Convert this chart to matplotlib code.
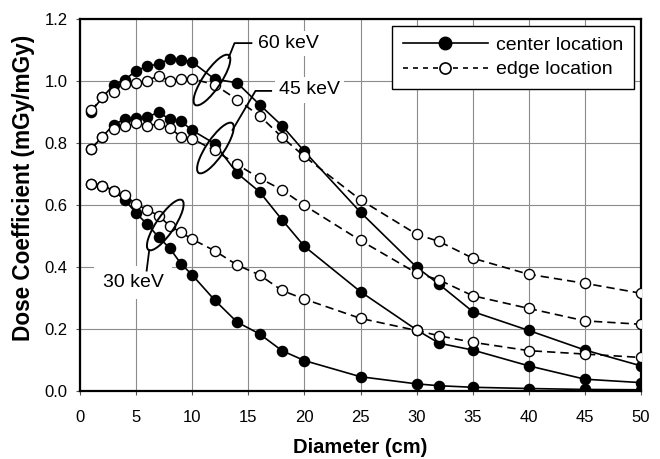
import numpy as np
import matplotlib
matplotlib.use("Agg")
import matplotlib.pyplot as plt
from matplotlib.patches import Ellipse
import matplotlib.transforms as mtrans

plt.rcParams['font.family'] = ['Liberation Sans', 'DejaVu Sans']

diam = [1, 2, 3, 4, 5, 6, 7, 8, 9, 10, 12, 14, 16, 18, 20, 25, 30, 32, 35, 40, 45, 50]

center_60 = [0.900, 0.946, 0.987, 1.003, 1.032, 1.046, 1.054, 1.070, 1.068, 1.060, 1.005, 0.993,
             0.923, 0.855, 0.772, 0.576, 0.399, 0.344, 0.256, 0.195, 0.132, 0.081]
edge_60 = [0.904, 0.946, 0.962, 0.989, 0.993, 1.000, 1.016, 1.000, 1.006, 1.006, 0.987, 0.939,
           0.887, 0.818, 0.756, 0.616, 0.505, 0.482, 0.428, 0.376, 0.347, 0.315]

center_45 = [0.780, 0.820, 0.858, 0.876, 0.880, 0.883, 0.898, 0.876, 0.869, 0.840, 0.797, 0.702,
             0.642, 0.552, 0.466, 0.320, 0.197, 0.154, 0.132, 0.081, 0.038, 0.027]
edge_45 = [0.780, 0.820, 0.844, 0.853, 0.863, 0.855, 0.860, 0.847, 0.820, 0.813, 0.775, 0.730,
           0.686, 0.648, 0.598, 0.485, 0.380, 0.358, 0.307, 0.266, 0.226, 0.215]

center_30 = [0.668, 0.662, 0.645, 0.616, 0.573, 0.537, 0.496, 0.460, 0.410, 0.374, 0.293, 0.222,
             0.184, 0.130, 0.098, 0.046, 0.023, 0.017, 0.012, 0.008, 0.005, 0.004]
edge_30 = [0.668, 0.662, 0.646, 0.630, 0.602, 0.584, 0.565, 0.532, 0.511, 0.489, 0.452, 0.406,
           0.374, 0.324, 0.296, 0.234, 0.195, 0.178, 0.157, 0.130, 0.119, 0.108]

fig = plt.figure(figsize=(6.6, 4.59), dpi=100)
ax = fig.add_axes([80 / 660, 68 / 459, 561 / 660, 372.4 / 459])

ms = 7.3
for c in [center_60, center_45, center_30]:
    ax.plot(diam, c, '-', color='black', lw=1.2, marker='o', ms=ms,
            mfc='black', mec='black', zorder=3)
for e in [edge_60, edge_45, edge_30]:
    ax.plot(diam, e, '--', color='black', lw=1.2, dashes=(5, 3), marker='o', ms=ms,
            mfc='white', mec='black', mew=1.0, zorder=4)

# legend handles
h1, = ax.plot([], [], '-', color='black', lw=1.2, marker='o', ms=9, mfc='black', mec='black')
h2, = ax.plot([], [], '--', color='black', lw=1.2, dashes=(3, 3), marker='o', ms=8,
              mfc='white', mec='black', mew=1.2)
leg = ax.legend([h1, h2], ['center location', 'edge location'], loc='upper right',
                bbox_to_anchor=(0.9875, 0.981), borderaxespad=0, fontsize=14,
                numpoints=1, handlelength=4.4, handletextpad=0.4, labelspacing=0.35,
                borderpad=0.55, fancybox=False, framealpha=1)
leg.get_frame().set_edgecolor('black')
leg.get_frame().set_linewidth(1.0)
leg.set_zorder(6)

# ellipses + labels
def ring(x, y):
    tr = fig.dpi_scale_trans + mtrans.ScaledTranslation(x, y, ax.transData)
    ax.add_patch(Ellipse((0, 0), 0.60, 0.18, angle=56, transform=tr, fill=False,
                         edgecolor='black', lw=1.4, zorder=5))

ring(11.76, 1.002)
ring(12.07, 0.783)
ring(7.60, 0.535)

box = dict(facecolor='white', edgecolor='none', pad=3)
ax.plot([13.24, 13.77, 15.28], [1.073, 1.121, 1.121], color='black', lw=1.3, zorder=5)
ax.text(15.85, 1.121, '60 keV', fontsize=14, ha='left', va='center', bbox=box, zorder=2.5)
ax.plot([13.59, 15.64, 17.04], [0.841, 0.967, 0.967], color='black', lw=1.3, zorder=5)
ax.text(17.7, 0.970, '45 keV', fontsize=14, ha='left', va='center', bbox=box, zorder=2.5)
ax.plot([6.17, 5.94], [0.454, 0.388], color='black', lw=1.3, zorder=5)
ax.text(4.75, 0.35, '30 keV', fontsize=14, ha='center', va='center',
        bbox=dict(facecolor='white', edgecolor='none', pad=6), zorder=2.5)

ax.set_xlim(0, 50)
ax.set_ylim(0, 1.2)
ax.set_xticks(np.arange(0, 51, 5))
ax.set_yticks(np.arange(0, 1.21, 0.2))
ax.set_yticklabels(['%.1f' % v for v in np.arange(0, 1.21, 0.2)])
ax.grid(True, color='#8c8c8c', lw=0.8, zorder=0)
ax.set_axisbelow(True)
ax.tick_params(axis='both', direction='out', length=3, width=0.8, labelsize=12, color='#555555')
ax.tick_params(axis='x', pad=11)
ax.tick_params(axis='y', pad=6)
for s in ax.spines.values():
    s.set_linewidth(1.6)

ax.set_xlabel('Diameter (cm)', fontsize=14.5, fontweight='bold')
ax.set_ylabel('Dose Coefficient (mGy/mGy)', fontsize=16.3, fontweight='bold')
ax.xaxis.set_label_coords(0.5, -0.125)
ax.yaxis.set_label_coords(-0.080, 0.545)

plt.savefig('out.png', dpi=100)
